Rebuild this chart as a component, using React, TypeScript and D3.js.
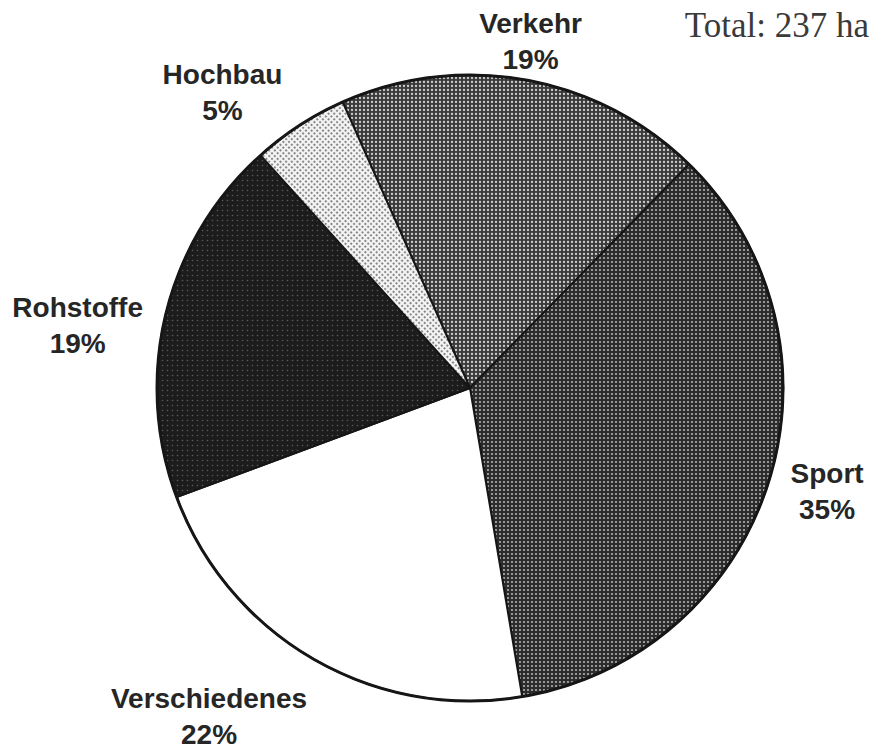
import React from "react";
import * as d3 from "d3";

// land use shares (percent), clockwise from the top
const categories = ["Verkehr", "Sport", "Verschiedenes", "Rohstoffe", "Hochbau"];
const shares = [19, 35, 22, 19, 5];
const totalLabel = "Total: 237 ha";

const width = 877;
const height = 749;
const cx = 470;
const cy = 388;
const radius = 313;

// halftone look of each slice
const patterns: Record<string, { bg: string; dot: string; r: number; size: number; rot: number }> = {
  Verkehr: { bg: "#3a3a3a", dot: "#cfcfcf", r: 1.15, size: 4, rot: 0 },
  Sport: { bg: "#2c2c2c", dot: "#b4b4b4", r: 1.05, size: 4, rot: 0 },
  Verschiedenes: { bg: "#ffffff", dot: "#ffffff", r: 0, size: 4, rot: 0 },
  Rohstoffe: { bg: "#1c1c1c", dot: "#5a5a5a", r: 0.8, size: 5, rot: 0 },
  Hochbau: { bg: "#f4f4f4", dot: "#6e6e6e", r: 1.1, size: 4, rot: 45 },
};

// hand placement of the labels, relative to the outer centroid
const labelNudge: Record<string, [number, number]> = {
  Verkehr: [-5, 9],
  Sport: [4, -16],
  Verschiedenes: [-76, 0],
  Rohstoffe: [-33, 17],
  Hochbau: [-46, 6],
};

interface Slice {
  name: string;
  value: number;
}

export default function App() {
  const data: Slice[] = categories.map((name, i) => ({ name, value: shares[i] }));

  const startAngle = (-24 * Math.PI) / 180;
  const pie = d3
    .pie<Slice>()
    .sort(null)
    .value((d) => d.value)
    .startAngle(startAngle)
    .endAngle(startAngle + 2 * Math.PI);
  const arcs = pie(data);

  const arc = d3.arc<d3.PieArcDatum<Slice>>().innerRadius(0).outerRadius(radius);
  const labelArc = d3
    .arc<d3.PieArcDatum<Slice>>()
    .innerRadius(radius + 57)
    .outerRadius(radius + 57);

  return (
    <svg
      width={width}
      height={height}
      style={{ position: "absolute", left: 0, top: 0, background: "#ffffff" }}
    >
      <defs>
        {categories.map((name) => {
          const p = patterns[name];
          return (
            <pattern
              key={name}
              id={`pat-${name}`}
              width={p.size}
              height={p.size}
              patternUnits="userSpaceOnUse"
              patternTransform={`rotate(${p.rot})`}
            >
              <rect width={p.size} height={p.size} fill={p.bg} />
              {p.r > 0 && <circle cx={p.size / 2} cy={p.size / 2} r={p.r} fill={p.dot} />}
            </pattern>
          );
        })}
      </defs>

      <g transform={`translate(${cx},${cy})`}>
        {arcs.map((a) => (
          <path
            key={a.data.name}
            d={arc(a) || ""}
            fill={`url(#pat-${a.data.name})`}
            stroke="#161616"
            strokeWidth={2}
            strokeLinejoin="round"
          />
        ))}
        <circle r={radius} fill="none" stroke="#161616" strokeWidth={3} />

        {arcs.map((a) => {
          const [x, y] = labelArc.centroid(a);
          const [dx, dy] = labelNudge[a.data.name];
          return (
            <text
              key={a.data.name}
              x={x + dx}
              y={y + dy}
              textAnchor="middle"
              fontFamily="'Liberation Sans', Arial, sans-serif"
              fontWeight="bold"
              fontSize={28}
              fill="#262626"
            >
              <tspan x={x + dx}>{a.data.name}</tspan>
              <tspan x={x + dx} dy={36}>
                {a.data.value}%
              </tspan>
            </text>
          );
        })}
      </g>

      <text
        x={869}
        y={37}
        textAnchor="end"
        fontFamily="'Liberation Serif', 'Times New Roman', serif"
        fontSize={35}
        fill="#3a3a3a"
      >
        {totalLabel}
      </text>
    </svg>
  );
}
